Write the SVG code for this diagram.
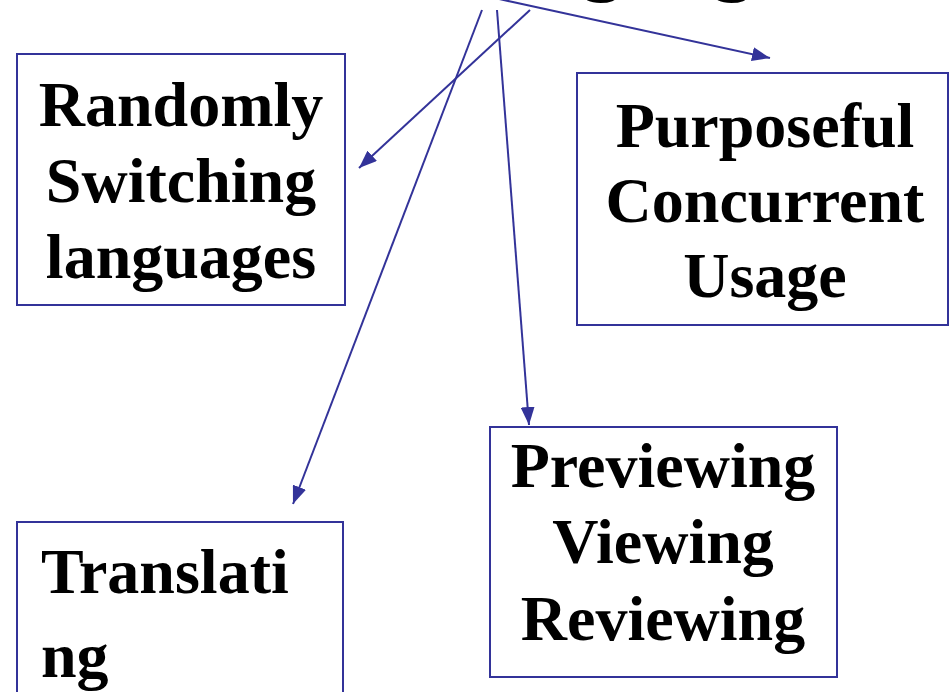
<svg xmlns="http://www.w3.org/2000/svg" width="949" height="692" viewBox="0 0 949 692">
<defs>
<style>
.box{fill:#fff;stroke:#333399;stroke-width:2}
.t{font-family:"Liberation Serif","Times New Roman",serif;font-weight:bold;font-size:64px;fill:#000}
.c{text-anchor:middle}
.ln{stroke:#333399;stroke-width:2;fill:none;marker-end:url(#ah)}
</style>
<marker id="ah" markerUnits="userSpaceOnUse" viewBox="0 0 18 14" markerWidth="18" markerHeight="14" refX="18" refY="7" orient="auto">
<path d="M0,0 L18,7 L0,14 Z" fill="#333399"/>
</marker>
</defs>
<rect width="949" height="692" fill="#fff"/>
<g id="title">
<text class="t" x="436" y="-15" style="font-size:84px">Language</text>
</g>
<g id="connectors">
<line class="ln" x1="490" y1="-3" x2="770" y2="58"/>
<line class="ln" x1="530" y1="10" x2="359" y2="168"/>
<line class="ln" x1="482" y1="10" x2="293" y2="504"/>
<line class="ln" x1="497" y1="10" x2="529" y2="425"/>
</g>
<g id="randomly">
<rect class="box" x="17" y="54" width="328" height="251"/>
<text class="t c" x="181" y="126">Randomly</text>
<text class="t c" x="181" y="202">Switching</text>
<text class="t c" x="181" y="278">languages</text>
</g>
<g id="purposeful">
<rect class="box" x="577" y="73" width="371" height="252"/>
<text class="t c" x="765" y="147">Purposeful</text>
<text class="t c" x="765" y="222">Concurrent</text>
<text class="t c" x="765" y="297">Usage</text>
</g>
<g id="translating">
<rect class="box" x="17" y="522" width="326" height="200"/>
<text class="t" x="41" y="593">Translati</text>
<text class="t" x="41" y="677">ng</text>
</g>
<g id="previewing">
<rect class="box" x="490" y="427" width="347" height="250"/>
<text class="t c" x="663" y="487">Previewing</text>
<text class="t c" x="663" y="563">Viewing</text>
<text class="t c" x="663" y="640">Reviewing</text>
</g>
</svg>
